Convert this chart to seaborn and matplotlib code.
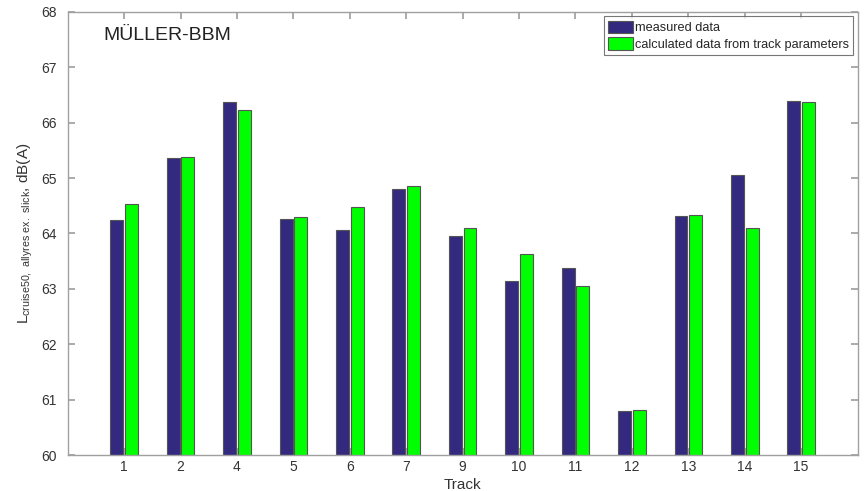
import numpy as np
import pandas as pd
import matplotlib
matplotlib.use('Agg')
import matplotlib.pyplot as plt
import seaborn as sns

# -------------------------
# data
# -------------------------
tracks = ['1', '2', '4', '5', '6', '7', '9', '10', '11', '12', '13', '14', '15']
measured = [64.25, 65.37, 66.37, 64.27, 64.06, 64.80, 63.95, 63.15, 63.37, 60.80, 64.32, 65.05, 66.39]
calculated = [64.53, 65.38, 66.22, 64.29, 64.47, 64.85, 64.10, 63.63, 63.05, 60.82, 64.33, 64.10, 66.37]
series_names = ['measured data', 'calculated data from track parameters']

df = pd.DataFrame({
    'Track': tracks * 2,
    'Level': measured + calculated,
    'Series': [series_names[0]] * len(tracks) + [series_names[1]] * len(tracks),
})

sns.set_theme(style='white')
plt.rcParams['font.family'] = ['Liberation Sans', 'DejaVu Sans']

fig = plt.figure(figsize=(8.68, 4.91), dpi=100)
ax = fig.add_axes([0.078, 0.073, 0.91, 0.903])

palette = {series_names[0]: '#332a80', series_names[1]: '#00ff00'}
sns.barplot(data=df, x='Track', y='Level', hue='Series', order=tracks,
            hue_order=series_names, palette=palette, width=0.52, gap=0.12,
            edgecolor='#555555', linewidth=0.8, saturation=1, ax=ax)

ax.set_ylim(60, 68)
ax.set_xlim(-1, len(tracks))
ax.set_yticks(np.arange(60, 69, 1))
ax.set_xlabel('Track', fontsize=11, color='#333333', labelpad=3)
ax.set_ylabel(r'L$_{\mathregular{cruise50,\ allyres\ ex.\ slick}}$, dB(A)',
              fontsize=11, color='#333333', labelpad=4)

for s in ax.spines.values():
    s.set_visible(True)
    s.set_color('#a0a0a0')
    s.set_linewidth(1.0)
ax.tick_params(direction='in', length=5, color='#a0a0a0', labelsize=10,
               labelcolor='#333333', top=True, right=True, bottom=True, left=True)
ax.tick_params(axis='y', pad=8)

ax.text(0.045, 0.965, 'MÜLLER-BBM', transform=ax.transAxes, fontsize=14,
        color='#222222', va='top')

leg = ax.legend(loc='upper right', fontsize=9.2, frameon=True, fancybox=False,
                borderpad=0.35, handlelength=1.9, handleheight=1.1,
                handletextpad=0.15, labelspacing=0.25, borderaxespad=0.35)
leg.get_frame().set_edgecolor('#555555')
leg.get_frame().set_linewidth(0.8)

fig.savefig('out.png', dpi=100)
plt.close()
